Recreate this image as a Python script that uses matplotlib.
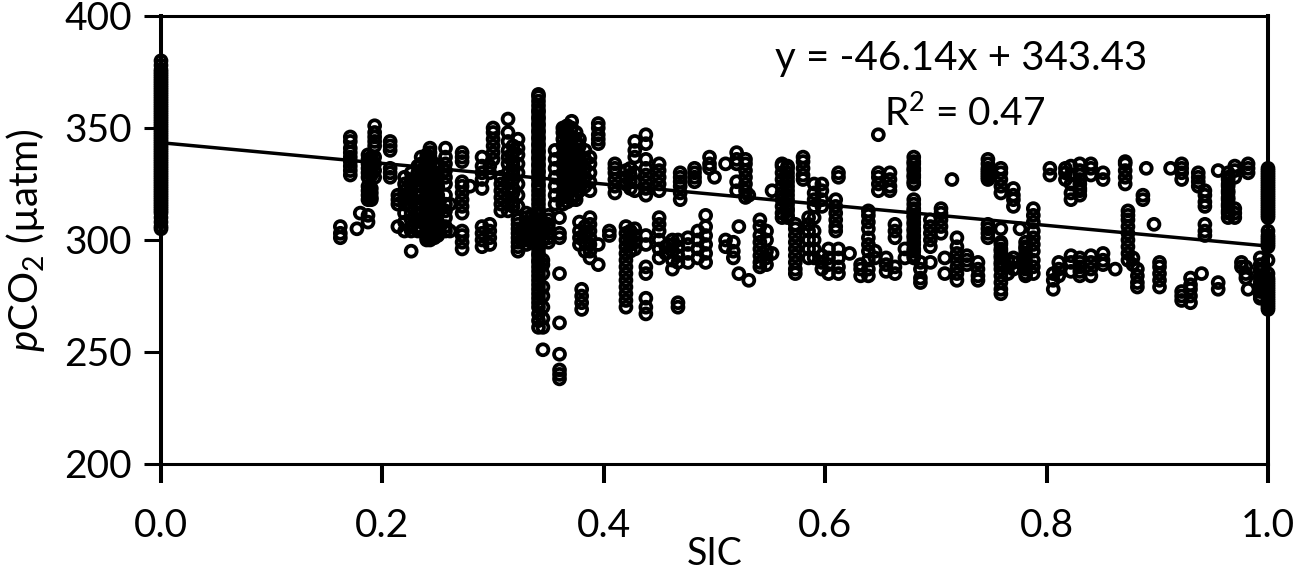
"""Scatter of pCO2 against sea ice concentration with a linear fit."""

import matplotlib

matplotlib.use("Agg")
import matplotlib.pyplot as plt

plt.rcParams["font.family"] = ["Lato", "DejaVu Sans"]
plt.rcParams["mathtext.fontset"] = "custom"
plt.rcParams["mathtext.rm"] = "Lato"
plt.rcParams["mathtext.it"] = "Lato:italic"

# (SIC, [pCO2 values read at that SIC])
open_water = [
    (0.0, [305, 306, 308, 310, 312, 313, 314, 315, 316, 317, 318, 319, 320, 321,
           322, 323, 324, 325, 326, 327, 328, 329, 330, 331, 332, 333, 334, 335,
           336, 337, 338, 339, 340, 341, 342, 343, 344, 345, 346, 347, 348, 349,
           350, 351, 352, 353, 354, 355, 356, 357, 358, 359, 360, 361, 362, 363,
           364, 365, 366, 367, 368, 369, 370, 371, 372, 373, 374, 375, 376, 378,
           380]),
]
sic_low = [
    (0.162, [301, 303, 306]),
    (0.171, [329, 331, 333, 335, 337, 339, 341, 344, 346]),
    (0.177, [305]),
    (0.180, [312]),
    (0.187, [308, 311, 318, 320, 322, 324, 328, 330, 332, 334, 336, 338]),
    (0.190, [318, 319, 321, 323, 329, 331, 333, 335, 337]),
    (0.193, [328, 331, 334, 337, 342, 344, 346, 348, 351]),
    (0.207, [328, 330, 332, 340, 342, 344]),
    (0.214, [306, 316, 318, 320]),
    (0.220, [304, 308, 312, 316, 319, 322, 325, 328]),
    (0.226, [295, 304, 306, 309, 312, 315, 318, 321, 324, 327, 330]),
    (0.232, [304, 306, 309, 311, 314, 317, 320, 322, 325, 327, 330, 333]),
    (0.235, [305, 308, 312, 316, 320, 324, 328, 331, 334, 337]),
    (0.240, [300, 301, 303, 305, 307, 309, 311, 312, 314, 315, 317, 318, 320,
             321, 323, 324, 326, 327, 329, 330, 332, 334, 336, 338]),
    (0.243, [300, 302, 304, 306, 308, 310, 313, 316, 319, 322, 325, 328, 331,
             333, 335, 337, 339, 341]),
    (0.247, [301, 303, 304, 306, 309, 311, 314, 315, 317, 318, 321, 323, 326,
             327, 330, 334]),
    (0.250, [302, 305, 308, 312, 316, 320, 324, 328, 332]),
    (0.257, [304, 306, 310, 313, 316, 320, 325, 328, 331, 334, 337, 341]),
    (0.261, [316, 304]),
    (0.272, [296, 299, 302, 304, 312, 315, 318, 321, 324, 326, 335, 337, 339]),
    (0.279, [324]),
    (0.290, [297, 300, 303, 306, 323, 327, 330, 333, 337]),
    (0.297, [298, 301, 304, 307, 330, 333]),
    (0.300, [336, 339, 342, 345, 348, 350]),
]
sic_mid_low = [
    (0.307, [313, 316, 319, 322, 325, 328]),
    (0.3135, [313, 316, 319, 322, 326, 330, 334, 337, 340, 344, 348, 354]),
    (0.318, [315, 317, 321, 323, 327, 329, 331, 333, 335, 339, 342]),
    (0.3225, [295, 297, 299, 301, 303, 305, 307, 309, 315, 320, 325, 330, 334,
              338, 341, 345]),
    (0.330, [298, 300, 302, 304, 306, 308, 310, 312]),
    (0.335, [299, 301, 303, 305, 308, 311]),
    (0.341, [261, 264, 267, 270, 272, 274, 276, 278, 280, 282, 284, 286, 288,
             290, 291, 293, 294, 296, 297, 299, 300, 302, 303, 305, 306, 308,
             309, 311, 312, 314, 316, 318, 320, 322, 324, 325, 327, 328, 330,
             331, 333, 334, 336, 337, 339, 340, 342, 343, 345, 346, 348, 349,
             351, 352, 354, 355, 357, 358, 360, 362, 364, 365]),
    (0.345, [251, 261, 265, 270, 275, 279, 285, 289, 291, 300, 304, 308]),
    (0.350, [299, 301, 303, 305, 307, 309, 311]),
    (0.360, [238, 240, 242, 249, 263, 285, 301, 303, 310]),
    (0.356, [316, 320, 324, 328, 332, 336, 340]),
    (0.363, [316, 319, 322, 326, 330, 334, 338, 342, 345, 348, 350]),
    (0.367, [317, 320, 321, 324, 325, 328, 329, 332, 333, 336, 337, 340, 341,
             344, 346, 349, 351]),
    (0.371, [318, 322, 326, 330, 334, 338, 342, 346, 350, 353]),
    (0.375, [318, 320, 324, 328, 332, 336, 340, 344, 348]),
    (0.378, [298, 301, 304, 308, 322, 326, 330, 334, 338, 342, 345]),
    (0.383, [295, 299, 303, 306, 324, 328, 332, 336, 340]),
    (0.3875, [292, 295, 298, 301, 304, 307, 310, 322, 326, 330, 334, 337]),
    (0.380, [269, 272, 275, 278]),
    (0.395, [289, 298, 343, 345, 347, 350, 352]),
    (0.405, [302, 304]),
    (0.410, [321, 324, 327, 330, 332, 334]),
    (0.420, [270, 273, 276, 279, 282, 285, 288, 291, 294, 297, 300, 303, 306,
             325, 328, 331]),
    (0.424, [295, 298, 301, 304, 323, 326, 329, 332]),
    (0.428, [296, 299, 302, 305, 322, 326, 330, 337, 340, 344]),
    (0.438, [267, 270, 274, 285, 288, 298, 302, 320, 323, 326, 329, 332, 336,
             343, 347]),
    (0.450, [292, 296, 300, 304, 307, 310, 322, 325, 328, 331, 334]),
    (0.456, [297, 294]),
    (0.462, [287, 291, 295, 298, 300]),
    (0.467, [270, 272, 290, 293, 297, 300]),
    (0.469, [318, 321, 324, 326, 328, 330]),
]
sic_mid = [
    (0.476, [290, 294, 298, 301]),
    (0.482, [326, 328, 330, 332]),
    (0.485, [292, 296, 300, 304]),
    (0.492, [311, 306, 290, 294, 298, 302]),
    (0.4955, [332, 334, 337]),
    (0.50, [328]),
    (0.51, [334, 300, 297]),
    (0.517, [292, 295, 299]),
    (0.52, [334, 336, 339, 326, 322]),
    (0.522, [306, 285]),
    (0.528, [319, 322, 325, 328, 331, 334, 336]),
    (0.531, [282, 320]),
    (0.541, [288, 290, 293, 296, 299, 302, 306, 309]),
    (0.547, [289, 292, 295, 300, 304]),
    (0.552, [322, 294]),
    (0.561, [310, 312, 315, 318, 321, 324, 327, 330, 333, 334]),
    (0.566, [310, 311, 313, 314, 316, 318, 320, 322, 324, 326, 328, 330, 332, 333]),
    (0.573, [285, 287, 290, 293, 296, 299, 302, 305, 307]),
    (0.58, [327, 329, 332, 335, 337]),
    (0.585, [292, 296, 300, 304, 307, 310]),
    (0.59, [292, 296, 300, 304, 310, 315, 318, 321, 325]),
    (0.597, [287, 290, 293, 315, 318, 322, 325]),
    (0.603, [285, 289, 292, 296]),
    (0.6095, [304, 306, 309, 312, 315, 318]),
    (0.612, [285, 288, 292, 296, 328, 330]),
    (0.622, [294]),
    (0.632, [284, 287, 289]),
    (0.639, [284, 287, 291, 295, 298, 301, 305, 308, 311, 313]),
    (0.645, [292, 295]),
    (0.648, [347, 322, 325, 328, 330]),
    (0.655, [286, 289, 292]),
    (0.6585, [322, 324, 327, 330]),
    (0.663, [285, 288, 301, 304, 307]),
]
sic_high = [
    (0.672, [292, 296]),
    (0.68, [292, 293, 295, 296, 298, 299, 301, 302, 304, 305, 307, 308, 310, 311,
            313, 314, 316, 318, 325, 326, 328, 329, 331, 332, 334, 335, 337]),
    (0.686, [281, 283, 287, 290]),
    (0.695, [297, 300, 303, 306, 309, 290]),
    (0.7046, [303, 306, 309, 312, 314]),
    (0.708, [285, 292]),
    (0.7145, [327]),
    (0.719, [282, 285, 288, 291, 294, 297, 301]),
    (0.728, [289, 291, 293]),
    (0.738, [282, 284, 287, 290]),
    (0.747, [301, 303, 305, 307, 327, 328, 329, 330, 331, 332, 334, 336]),
    (0.7587, [276, 278, 281, 284, 287, 289, 290, 292, 293, 295, 296, 298, 299,
              305, 321, 324, 327, 330, 332]),
    (0.765, [285, 288, 291]),
    (0.77, [315, 318, 320, 323, 287, 290, 292]),
    (0.776, [305]),
    (0.781, [284, 285, 287, 288, 290, 291, 293, 294, 296, 297, 299]),
    (0.788, [285, 288, 291, 295, 298, 301, 304, 308, 311, 314]),
    (0.803, [329, 332]),
    (0.806, [278, 282, 285]),
    (0.811, [284, 287, 290]),
    (0.817, [327, 330, 332]),
    (0.822, [286, 290, 293, 318, 321, 325, 329, 333]),
    (0.83, [284, 286, 288, 290, 292, 320, 322, 323, 325, 327, 329, 331, 334]),
    (0.84, [284, 287, 290, 293, 329, 332, 334]),
    (0.851, [289, 291, 294, 327, 330]),
]
sic_ice = [
    (0.862, [287]),
    (0.871, [325, 328, 331, 334, 335]),
    (0.8735, [291, 294, 297, 300, 303, 306, 309, 311, 313]),
    (0.878, [289, 292]),
    (0.882, [279, 281, 284, 287]),
    (0.887, [320, 318]),
    (0.89, [332]),
    (0.897, [307]),
    (0.902, [279, 282, 285, 288, 290]),
    (0.912, [332]),
    (0.922, [273, 275, 277, 327, 330, 332, 334]),
    (0.93, [272, 275, 278, 280, 283]),
    (0.937, [324, 326, 328, 330]),
    (0.94, [285]),
    (0.943, [315, 317, 320, 322, 302, 304, 307]),
    (0.955, [331, 278, 281]),
    (0.964, [310, 312, 313, 315, 316, 318, 319, 321, 322, 324, 325, 327, 328, 330]),
    (0.97, [310, 312, 314, 328, 331, 333]),
    (0.976, [288, 290]),
    (0.98, [283, 285, 288]),
    (0.982, [278, 330, 332, 334]),
    (0.993, [274, 275, 277, 278, 280, 281, 283, 284, 286, 287, 289, 292]),
    (1.0, [269, 270, 271, 272, 273, 274, 275, 276, 277, 278, 279, 280, 281, 282,
           283, 285, 291, 297, 298, 299, 300, 301, 302, 304, 310, 311, 312, 313,
           314, 315, 316, 317, 318, 319, 320, 321, 322, 323, 324, 325, 326, 327,
           328, 329, 330, 331, 332]),
]

trend_sic = [0.0, 1.0]
trend_pco2 = [343.43, 297.29]

x_ticks = [0.0, 0.2, 0.4, 0.6, 0.8, 1.0]
y_ticks = [200, 250, 300, 350, 400]

sic = []
pco2 = []
for group in (open_water, sic_low, sic_mid_low, sic_mid, sic_high, sic_ice):
    for value, readings in group:
        sic.extend([value] * len(readings))
        pco2.extend(readings)

fig = plt.figure(figsize=(12.99, 5.70), dpi=100)
ax = fig.add_axes([161 / 1299, 1 - 464 / 570, 1107 / 1299, 448 / 570])

ax.scatter(sic, pco2, s=62, facecolors="none", edgecolors="black",
           linewidths=2.7, clip_on=False, zorder=3)
ax.plot(trend_sic, trend_pco2, color="black", linewidth=2.5, zorder=4)

ax.set_xlim(0, 1)
ax.set_ylim(200, 400)
ax.set_xticks(x_ticks)
ax.set_xticklabels([f"{t:.1f}" for t in x_ticks])
ax.set_yticks(y_ticks)
ax.tick_params(axis="y", labelsize=28, width=2.2, length=12, pad=9)
ax.tick_params(axis="x", labelsize=28, width=2.9, length=13.5, pad=18)
for spine in ax.spines.values():
    spine.set_linewidth(2.2)
ax.spines["left"].set_linewidth(2.9)
ax.spines["right"].set_linewidth(2.9)

ax.set_xlabel("SIC", fontsize=27, labelpad=-5.5)
ax.set_ylabel(r"$\mathit{p}$CO$_2$ (µatm)", fontsize=29)
ax.yaxis.set_label_coords(-0.103, 0.5)

ax.text(0.7227, 0.906, "y = -46.14x + 343.43", fontsize=29, ha="center", va="center",
        transform=ax.transAxes, zorder=5)
ax.text(0.726, 0.783, "R$^2$ = 0.47", fontsize=28, ha="center", va="center",
        transform=ax.transAxes, zorder=5)

fig.savefig("out.png", dpi=100)
